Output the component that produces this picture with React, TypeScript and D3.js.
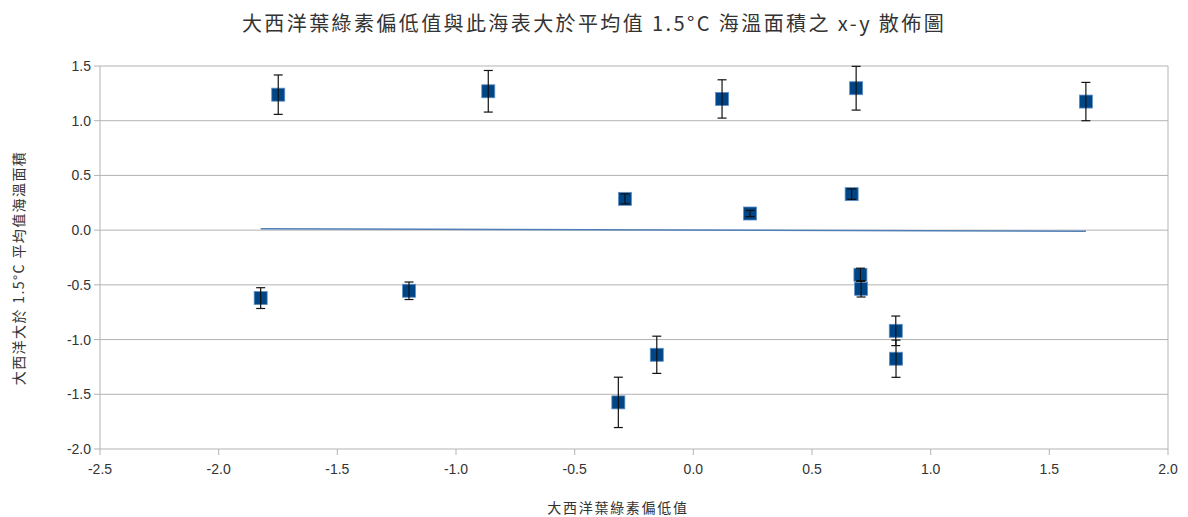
import React from 'react';
import * as d3 from 'd3';

const title = '大西洋葉綠素偏低值與此海表大於平均值 1.5°C 海溫面積之 x-y 散佈圖';
const xTitle = '大西洋葉綠素偏低值';
const yTitle = '大西洋大於 1.5°C 平均值海溫面積';

// chlorophyll anomaly (x), warm area anomaly (y), error half-width
const xValues = [-1.749, -0.864, 0.121, 0.686, 1.654, -0.288, 0.239, 0.667, -1.823, -1.198, 0.704, 0.707, -0.154, -0.316, 0.853, 0.854];
const yValues = [1.238, 1.269, 1.199, 1.297, 1.175, 0.286, 0.152, 0.329, -0.621, -0.554, -0.408, -0.536, -1.139, -1.574, -0.92, -1.175];
const yErrors = [0.18, 0.19, 0.175, 0.2, 0.175, 0.045, 0.028, 0.048, 0.095, 0.08, 0.06, 0.075, 0.17, 0.23, 0.135, 0.17];

const xTicks = [-2.5, -2.0, -1.5, -1.0, -0.5, 0.0, 0.5, 1.0, 1.5, 2.0];
const yTicks = [1.5, 1.0, 0.5, 0.0, -0.5, -1.0, -1.5, -2.0];

const width = 1188;
const height = 517;
const margin = { top: 66, right: 20, bottom: 68, left: 100 };

export default function App() {
    const x = d3.scaleLinear().domain([-2.5, 2.0]).range([margin.left, width - margin.right]);
    const y = d3.scaleLinear().domain([-2.0, 1.5]).range([height - margin.bottom, margin.top]);

    const points = xValues.map((v, i) => ({ x: v, y: yValues[i], e: yErrors[i] }));

    // linear trend line (least squares)
    const mx = d3.mean(xValues) as number;
    const my = d3.mean(yValues) as number;
    const sxy = d3.sum(points, (p) => (p.x - mx) * (p.y - my));
    const sxx = d3.sum(points, (p) => (p.x - mx) * (p.x - mx));
    const slope = sxy / sxx;
    const icpt = my - slope * mx;
    const [x0, x1] = d3.extent(xValues) as [number, number];
    const trend = d3.line<number>().x((d) => x(d)).y((d) => y(icpt + slope * d))([x0, x1]);

    const font = '"Liberation Sans", Arial, sans-serif';
    const cjk = '"Noto Sans CJK TC", "Liberation Sans", sans-serif';
    const grid = '#b3b3b3';
    const sq = 13;
    const cap = 4.5;

    return (
        <div style={{ position: 'absolute', left: 0, top: 0 }}>
            <svg width={width} height={height} style={{ display: 'block', background: '#fff' }}>
                <text x={594} y={31} textAnchor="middle" fontFamily={cjk} fontSize={20} letterSpacing={2.4} fill="#333">
                    {title}
                </text>

                {yTicks.map((t) => (
                    <g key={'y' + t}>
                        <line x1={x(-2.5)} x2={x(2.0)} y1={y(t)} y2={y(t)} stroke={grid} strokeWidth={1} />
                        <line x1={x(-2.5) - 6} x2={x(-2.5)} y1={y(t)} y2={y(t)} stroke={grid} strokeWidth={1} />
                        <text x={x(-2.5) - 9} y={y(t) + 5} textAnchor="end" fontFamily={font} fontSize={14} fill="#333">
                            {t.toFixed(1)}
                        </text>
                    </g>
                ))}
                <line x1={x(-2.5)} x2={x(-2.5)} y1={y(1.5)} y2={y(-2.0)} stroke={grid} strokeWidth={1} />
                <line x1={x(2.0)} x2={x(2.0)} y1={y(1.5)} y2={y(-2.0)} stroke={grid} strokeWidth={1} />

                {xTicks.map((t) => (
                    <g key={'x' + t}>
                        <line x1={x(t)} x2={x(t)} y1={y(-2.0)} y2={y(-2.0) + 6} stroke={grid} strokeWidth={1} />
                        <text x={x(t)} y={y(-2.0) + 25} textAnchor="middle" fontFamily={font} fontSize={14} fill="#333">
                            {t.toFixed(1)}
                        </text>
                    </g>
                ))}

                <text x={618} y={513} textAnchor="middle" fontFamily={cjk} fontSize={14} letterSpacing={1.7} fill="#333">
                    {xTitle}
                </text>
                <text transform="translate(24,268) rotate(-90)" textAnchor="middle" fontFamily={cjk} fontSize={14} letterSpacing={1.4} fill="#333">
                    {yTitle}
                </text>

                {points.map((p, i) => (
                    <rect key={'p' + i} x={x(p.x) - sq / 2} y={y(p.y) - sq / 2} width={sq} height={sq}
                        fill="#004586" stroke="#5f8fc4" strokeWidth={0.8} />
                ))}

                <path d={trend || ''} fill="none" stroke="#4f7fb5" strokeWidth={1.6} />

                {points.map((p, i) => (
                    <g key={'e' + i} stroke="#111" strokeWidth={1.2}>
                        <line x1={x(p.x)} x2={x(p.x)} y1={y(p.y + p.e)} y2={y(p.y - p.e)} />
                        <line x1={x(p.x) - cap} x2={x(p.x) + cap} y1={y(p.y + p.e)} y2={y(p.y + p.e)} />
                        <line x1={x(p.x) - cap} x2={x(p.x) + cap} y1={y(p.y - p.e)} y2={y(p.y - p.e)} />
                    </g>
                ))}
            </svg>
        </div>
    );
}
